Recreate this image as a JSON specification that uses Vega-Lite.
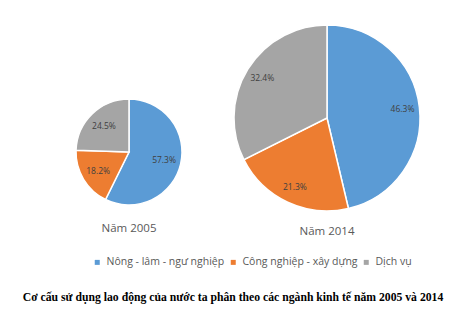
{
  "$schema": "https://vega.github.io/schema/vega-lite/v6.json",
  "background": "white",
  "padding": {"left": 22, "top": 22, "right": 5, "bottom": 2},
  "title": {
    "text": "Cơ cấu sử dụng lao động của nước ta phân theo các ngành kinh tế năm 2005 và 2014",
    "orient": "bottom",
    "anchor": "middle",
    "font": "Liberation Serif",
    "fontSize": 11.7,
    "fontWeight": "bold",
    "color": "#000000",
    "offset": 13
  },
  "data": {
    "values": [
      {"year": 2005, "cat": "Nông - lâm - ngư nghiệp", "k": 1, "v": 0.573},
      {"year": 2005, "cat": "Công nghiệp - xây dựng", "k": 2, "v": 0.182},
      {"year": 2005, "cat": "Dịch vụ", "k": 3, "v": 0.245},
      {"year": 2014, "cat": "Nông - lâm - ngư nghiệp", "k": 1, "v": 0.463},
      {"year": 2014, "cat": "Công nghiệp - xây dựng", "k": 2, "v": 0.213},
      {"year": 2014, "cat": "Dịch vụ", "k": 3, "v": 0.324}
    ]
  },
  "spacing": 0,
  "hconcat": [
    {
      "width": 188,
      "height": 254,
      "title": {"text": "Năm 2005", "orient": "bottom", "offset": -56, "font": "Open Sans", "fontSize": 11.5, "fontWeight": "normal", "color": "#595959"},
      "transform": [{"filter": "datum.year == 2005"}],
      "encoding": {
        "theta": {"field": "v", "type": "quantitative", "stack": true, "scale": {"domain": [0, 1]}},
        "order": {"field": "k", "type": "ordinal"}
      },
      "layer": [
        {
          "mark": {"type": "arc", "outerRadius": 53, "stroke": "white", "strokeWidth": 1.5},
          "encoding": {
            "color": {
              "field": "cat", "type": "nominal",
              "scale": {"domain": ["Nông - lâm - ngư nghiệp", "Công nghiệp - xây dựng", "Dịch vụ"], "range": ["#5B9BD5", "#ED7D31", "#A5A5A5"]},
              "legend": {"orient": "none", "legendX": 57, "legendY": 232, "direction": "horizontal", "columns": 3, "columnPadding": 3, "title": null, "symbolType": "square", "symbolSize": 25, "symbolStrokeWidth": 0, "labelFont": "Open Sans", "labelFontSize": 10.5, "labelColor": "#595959", "labelOffset": 4, "padding": 0}
            }
          }
        },
        {
          "mark": {"type": "text", "radius": 36, "font": "Open Sans", "fontSize": 8.5, "color": "#404040"},
          "encoding": {"text": {"field": "v", "type": "quantitative", "format": ".1%"}}
        }
      ]
    },
    {
      "width": 208,
      "height": 186,
      "title": {"text": "Năm 2014", "orient": "bottom", "offset": 12, "font": "Open Sans", "fontSize": 11.5, "fontWeight": "normal", "color": "#595959"},
      "transform": [{"filter": "datum.year == 2014"}],
      "encoding": {
        "theta": {"field": "v", "type": "quantitative", "stack": true, "scale": {"domain": [0, 1]}},
        "order": {"field": "k", "type": "ordinal"}
      },
      "layer": [
        {
          "mark": {"type": "arc", "outerRadius": 93, "stroke": "white", "strokeWidth": 1.5},
          "encoding": {
            "color": {
              "field": "cat", "type": "nominal",
              "scale": {"domain": ["Nông - lâm - ngư nghiệp", "Công nghiệp - xây dựng", "Dịch vụ"], "range": ["#5B9BD5", "#ED7D31", "#A5A5A5"]},
              "legend": {"orient": "none", "legendX": 57, "legendY": 232, "direction": "horizontal", "columns": 3, "columnPadding": 3, "title": null, "symbolType": "square", "symbolSize": 25, "symbolStrokeWidth": 0, "labelFont": "Open Sans", "labelFontSize": 10.5, "labelColor": "#595959", "labelOffset": 4, "padding": 0}
            }
          }
        },
        {
          "mark": {"type": "text", "radius": 76, "font": "Open Sans", "fontSize": 8.5, "color": "#404040"},
          "encoding": {"text": {"field": "v", "type": "quantitative", "format": ".1%"}}
        }
      ]
    }
  ],
  "config": {"view": {"stroke": null}}
}
